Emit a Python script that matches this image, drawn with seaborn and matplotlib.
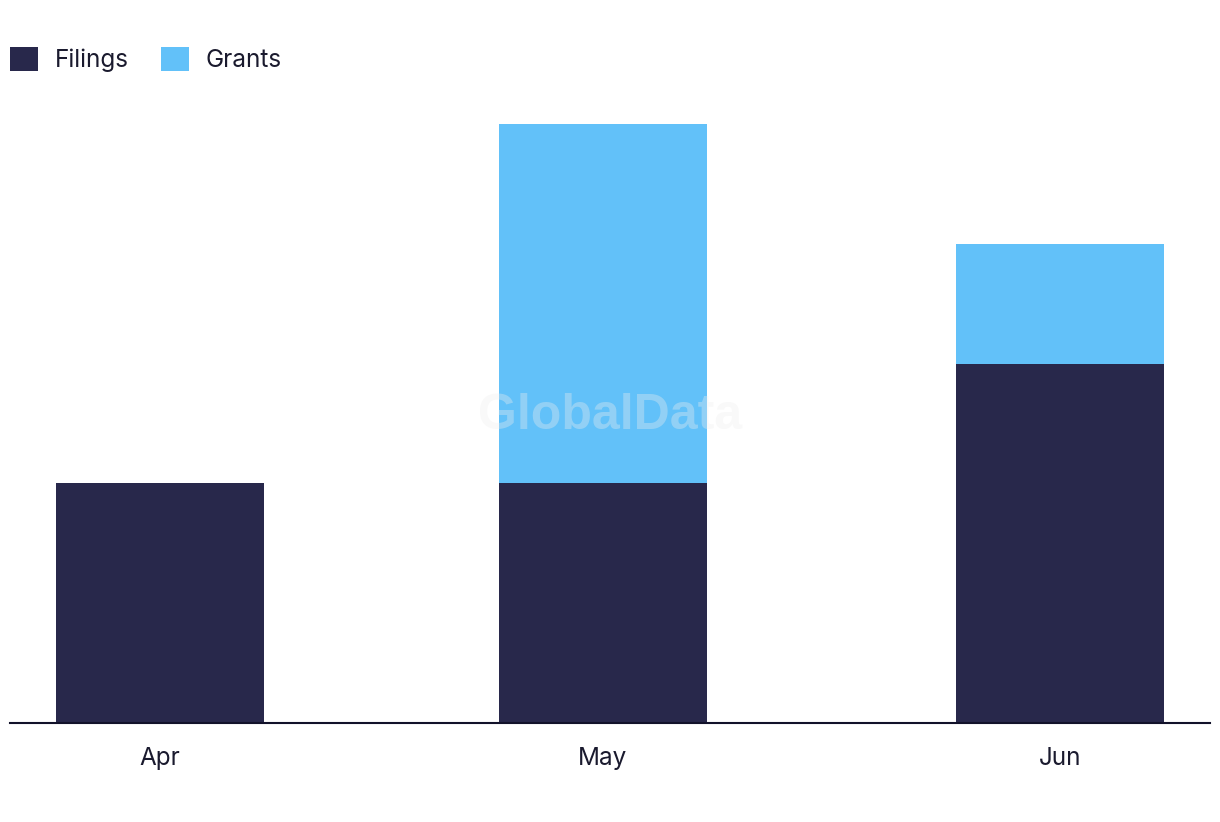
import matplotlib
matplotlib.use("Agg")
import matplotlib.pyplot as plt
import matplotlib.dates as mdates
from matplotlib.patches import Patch
import numpy as np
import pandas as pd
import seaborn as sns

months = ["Apr", "May", "Jun"]
month_dates = ["2023-04-01", "2023-05-01", "2023-06-01"]
filings = [2, 2, 3]
grants = [0, 3, 1]

navy = "#28284b"
blue = "#62c1f9"

sns.set_theme(style="white")
plt.rcParams["font.family"] = ["Inter", "DejaVu Sans"]

day = mdates.date2num(pd.to_datetime(month_dates))
x0 = day[0]
xs = day - x0
df = pd.DataFrame({"x": xs, "filings": filings, "grants": grants})
df["total"] = df["filings"] + df["grants"]

fig = plt.figure(figsize=(12.2, 8.22), dpi=100)
ax = fig.add_axes([10 / 1220, 99 / 822, 1200 / 1220, 599 / 822])

w = 0.47
sns.barplot(data=df, x="x", y="total", native_scale=True, color=blue,
            saturation=1, width=w, ax=ax, linewidth=0, edgecolor="none")
sns.barplot(data=df, x="x", y="filings", native_scale=True, color=navy,
            saturation=1, width=w, ax=ax, linewidth=0, edgecolor="none")

pad = 10.17
ax.set_xlim(xs[0] - pad, xs[-1] + pad)
ax.set_ylim(0, 5)
ax.set_xticks(xs)
ax.set_xticklabels(months, fontsize=17.5, color="#1a1a2e")
ax.tick_params(axis="x", length=0, pad=17)
ax.set_yticks([])
ax.set_xlabel("")
ax.set_ylabel("")
for s in ["top", "right", "left"]:
    ax.spines[s].set_visible(False)
ax.spines["bottom"].set_color("#12122a")
ax.spines["bottom"].set_linewidth(1.5)

ax.text(0.5, (723 - 416) / 599, "GlobalData", transform=ax.transAxes,
        ha="center", va="center", fontsize=36, fontweight="bold",
        family="Liberation Sans", color="#eeeeee", alpha=0.35, zorder=5)

handles = [Patch(facecolor=navy, edgecolor="none", label="Filings"),
           Patch(facecolor=blue, edgecolor="none", label="Grants")]
fig.legend(handles=handles, loc="center left",
           bbox_to_anchor=(10 / 1220, 1 - 59.5 / 822), ncol=2, frameon=False,
           fontsize=17.5, handlelength=1.15, handleheight=1.15,
           handletextpad=0.7, columnspacing=1.31, borderpad=0,
           borderaxespad=0, labelcolor="#1a1a2e")

fig.savefig("out.png", dpi=100)
